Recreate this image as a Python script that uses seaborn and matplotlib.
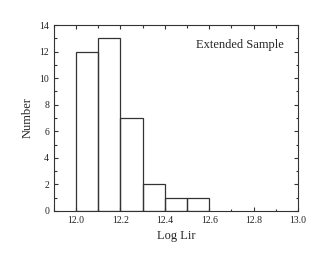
import matplotlib
matplotlib.use("Agg")
import matplotlib.pyplot as plt
import seaborn as sns
from matplotlib.ticker import MultipleLocator

# Histogram data
bin_edges = [12.0, 12.1, 12.2, 12.3, 12.4, 12.5, 12.6]
bin_centers = [12.05, 12.15, 12.25, 12.35, 12.45, 12.55]
counts = [12, 13, 7, 2, 1, 1]

sns.set_style("ticks")
plt.rcParams["font.family"] = ["Liberation Serif", "DejaVu Serif"]

fig = plt.figure(figsize=(3.27, 2.66), dpi=100)
ax = fig.add_axes([0.165, 0.207, 0.746, 0.699])

sns.histplot(x=bin_centers, weights=counts, bins=bin_edges, fill=False,
             color="#333333", linewidth=0.9, ax=ax)

ax.set_xlim(11.9, 13.0)
ax.set_ylim(0, 14)
ax.xaxis.set_major_locator(MultipleLocator(0.2))
ax.xaxis.set_minor_locator(MultipleLocator(0.1))
ax.yaxis.set_major_locator(MultipleLocator(2))
ax.yaxis.set_minor_locator(MultipleLocator(1))
ax.set_xticklabels([f"{v:.1f}" for v in ax.get_xticks()])

ax.tick_params(which="both", direction="in", top=True, right=True,
               labelsize=7, color="#333333", width=0.8, labelcolor="#222222")
ax.tick_params(which="major", length=3)
ax.tick_params(which="minor", length=1.8)
for s in ax.spines.values():
    s.set_linewidth(0.8)
    s.set_color("#333333")

ax.set_xlabel("Log Lir", fontsize=9)
ax.set_ylabel("Number", fontsize=9)
ax.text(0.94, 0.89, "Extended Sample", transform=ax.transAxes,
        ha="right", va="center", fontsize=9)

fig.savefig("out.png", dpi=100)
